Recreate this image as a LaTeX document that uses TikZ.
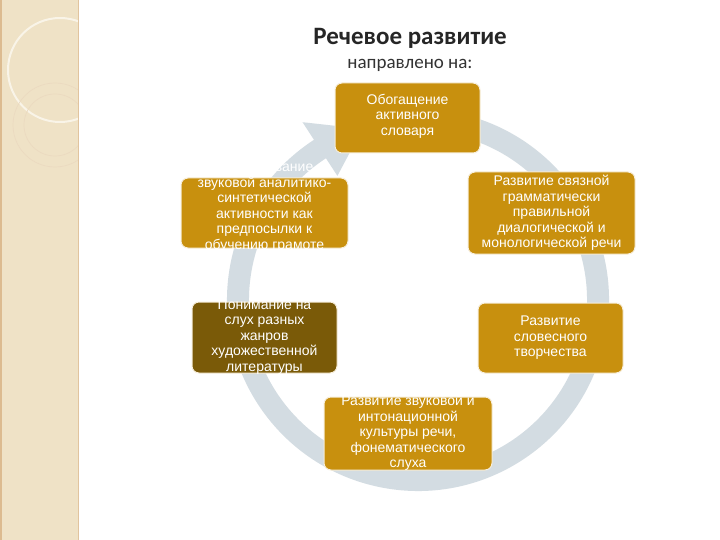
\documentclass[tikz,border=0pt]{standalone}
\usepackage{fontspec}
\setmainfont{Liberation Sans}
\newfontfamily\titlefont{Carlito}
\usetikzlibrary{arrows.meta,calc}
\definecolor{gold}{HTML}{C8900E}
\definecolor{dbrown}{HTML}{7A5A08}
\definecolor{ring}{HTML}{D3DCE2}
\definecolor{panel}{HTML}{EFE2C6}
\tikzset{
  box/.style={rounded corners=7pt, fill=gold, draw=white!85!gold, line width=1pt},
  btext/.style={text=white, align=center, font=\fontsize{14}{15.5}\selectfont},
}
\begin{document}
\begin{tikzpicture}[x=1pt,y=-1pt]
\useasboundingbox (0,0) rectangle (720,540);
\fill[white] (0,0) rectangle (720,540);
% left panel
\begin{scope}
\clip (0,0) rectangle (78,540);
\fill[panel] (0,0) rectangle (78,540);
\draw[white!60!panel, line width=2pt] (60,70) circle (52);
\draw[panel!75!brown!70, line width=0.7pt] (55,125) circle (42);
\draw[panel!75!brown!70, line width=0.7pt] (55,125) circle (31);
\fill[panel!60!brown] (0,0) rectangle (2,540);
\end{scope}
\draw[panel!70!brown, line width=0.6pt] (78,0) -- (78,540);
% ring
\coordinate (c) at (418,300);
\draw[ring, line width=22pt] ($(c)+(-78:180)$) arc[start angle=-78, end angle=238, radius=180];
\fill[ring] ($(c)+(-123:148)$) -- ($(c)+(-123:212)$) -- ($(c)+(-108:180)$) -- cycle;
% title
\node[font=\titlefont\bfseries\fontsize{25}{27}\selectfont, text=black!85] (t) at (410,38) {Речевое развитие};
\node[font=\titlefont\fontsize{19}{21}\selectfont, text=black!80] (st) at (410,65) {направлено на:};
% boxes
\draw[box] (335,83) rectangle (480,153);
\node[btext] (b1) at (407.5,116) {Обогащение\\активного\\словаря};
\draw[box] (181,178) rectangle (348,248);
\node[btext] (b2) at (264.5,207) {Формирование\\звуковой аналитико-\\синтетической\\активности как\\предпосылки к\\обучению грамоте};
\draw[box] (468,172) rectangle (635,254);
\node[btext] (b3) at (551.5,213) {Развитие связной\\грамматически\\правильной\\диалогической и\\монологической речи};
\draw[box, fill=dbrown] (192,302) rectangle (337,373);
\node[btext] (b4) at (264.5,337) {Понимание на\\слух разных\\жанров\\художественной\\литературы};
\draw[box] (478,303) rectangle (623,373);
\node[btext] (b5) at (550.5,338) {Развитие\\словесного\\творчества};
\draw[box] (324,397) rectangle (492,470);
\node[btext] (b6) at (408,433) {Развитие звуковой и\\интонационной\\культуры речи,\\фонематического\\слуха};
\end{tikzpicture}
\end{document}
